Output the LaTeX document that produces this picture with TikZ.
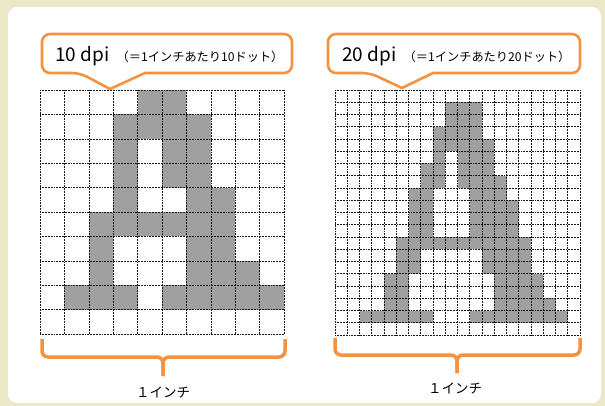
\documentclass[tikz,border=0pt]{standalone}
\usepackage{fontspec}
\setmainfont{Noto Sans CJK JP}
\usepackage{tikz}
\usetikzlibrary{positioning}
\definecolor{bgbeige}{RGB}{234,232,198}
\definecolor{boxorange}{RGB}{243,146,64}
\definecolor{dotgray}{RGB}{160,160,160}
\tikzstyle{cell} = [fill=dotgray]
\tikzstyle{gridline} = [densely dotted, line width=0.55pt, draw=black!90]
\tikzstyle{callbox} = [draw=boxorange, line width=2.6pt, fill=white, line join=round]
\tikzstyle{brace} = [draw=boxorange, line width=3.5pt, rounded corners=6pt]
\tikzstyle{dpitext} = [inner sep=0pt, anchor=base west, font=\fontsize{19}{19}\selectfont]
\tikzstyle{notetext} = [inner sep=0pt, anchor=base west, font=\fontsize{12.2}{12.2}\selectfont]
\tikzstyle{inchtext} = [inner sep=0pt, font=\fontsize{13.5}{13.5}\selectfont]

\begin{document}
\begin{tikzpicture}[x=1pt, y=-1pt]
  % background and white panel
  \fill[bgbeige] (0,0) rectangle (605,406);
  \fill[white, rounded corners=9pt] (8,7) rectangle (601,403);
  \useasboundingbox (0,0) rectangle (605,406);

  % 10 dpi grid
  \begin{scope}[shift={(40,90)}, x=24.4pt, y=-24.4pt]
    \foreach \r/\cs in {0/{4,5}, 1/{3,4,5,6}, 2/{3,5,6}, 3/{3,5,6}, 4/{3,6,7},
        5/{2,3,4,5,6,7}, 6/{2,6,7}, 7/{2,6,7,8}, 8/{1,2,3,5,6,7,8,9}}
      \foreach \c in \cs
        \fill[cell] (\c,\r) rectangle +(1,1);
    \foreach \i in {0,...,10} {
      \draw[gridline] (\i,0) -- (\i,10);
      \draw[gridline] (0,\i) -- (10,\i);
    }
  \end{scope}

  % 20 dpi grid
  \begin{scope}[shift={(335,90)}, x=12.25pt, y=-12.25pt]
    \foreach \r/\cs in {1/{9,10,11}, 2/{9,10,11}, 3/{8,9,10,11}, 4/{8,9,10,11,12},
        5/{8,10,11,12}, 6/{7,8,10,11,12}, 7/{7,8,10,11,12,13}, 8/{6,7,11,12,13},
        9/{6,7,11,12,13,14}, 10/{6,7,11,12,13,14}, 11/{6,7,11,12,13,14},
        12/{5,6,7,8,9,10,11,12,13,14,15},
        13/{5,6,12,13,14,15}, 14/{5,6,12,13,14,15}, 15/{4,5,13,14,15,16},
        16/{4,5,13,14,15,16}, 17/{4,5,13,14,15,16,17},
        18/{2,3,4,5,6,7,11,12,13,14,15,16,17,18}}
      \foreach \c in \cs
        \fill[cell] (\c,\r) rectangle +(1,1);
    \foreach \i in {0,...,20} {
      \draw[gridline] (\i,0) -- (\i,20);
      \draw[gridline] (0,\i) -- (20,\i);
    }
  \end{scope}

  % callouts
  \draw[callbox] (110,89) -- (145,73) [rounded corners=8pt] -- (292,73) -- (292,34)
    -- (42,34) -- (42,73) -- (80,73) [sharp corners] -- cycle;
  \draw[callbox] (402,88) -- (433,73) [rounded corners=8pt] -- (580,73) -- (580,34)
    -- (328,34) -- (328,73) -- (370,73) [sharp corners] -- cycle;

  \node[dpitext] (dpi10) at (55,62) {10 dpi};
  \node[notetext] (note10) at ([xshift=7pt]dpi10.base east) {（＝1インチあたり10ドット）};
  \node[dpitext] (dpi20) at (342,62) {20 dpi};
  \node[notetext] (note20) at ([xshift=7pt]dpi20.base east) {（＝1インチあたり20ドット）};

  % braces
  \draw[brace] (42,339) -- (42,357) -- (163,357) -- (163,376);
  \draw[brace] (285,339) -- (285,357) -- (163,357) -- (163,376);
  \draw[brace] (335,338) -- (335,355) -- (457,355) -- (457,373);
  \draw[brace] (580,338) -- (580,355) -- (457,355) -- (457,373);

  \node[inchtext] (inch10) at (163,392) {１インチ};
  \node[inchtext] (inch20) at (455,388) {１インチ};
\end{tikzpicture}
\end{document}
